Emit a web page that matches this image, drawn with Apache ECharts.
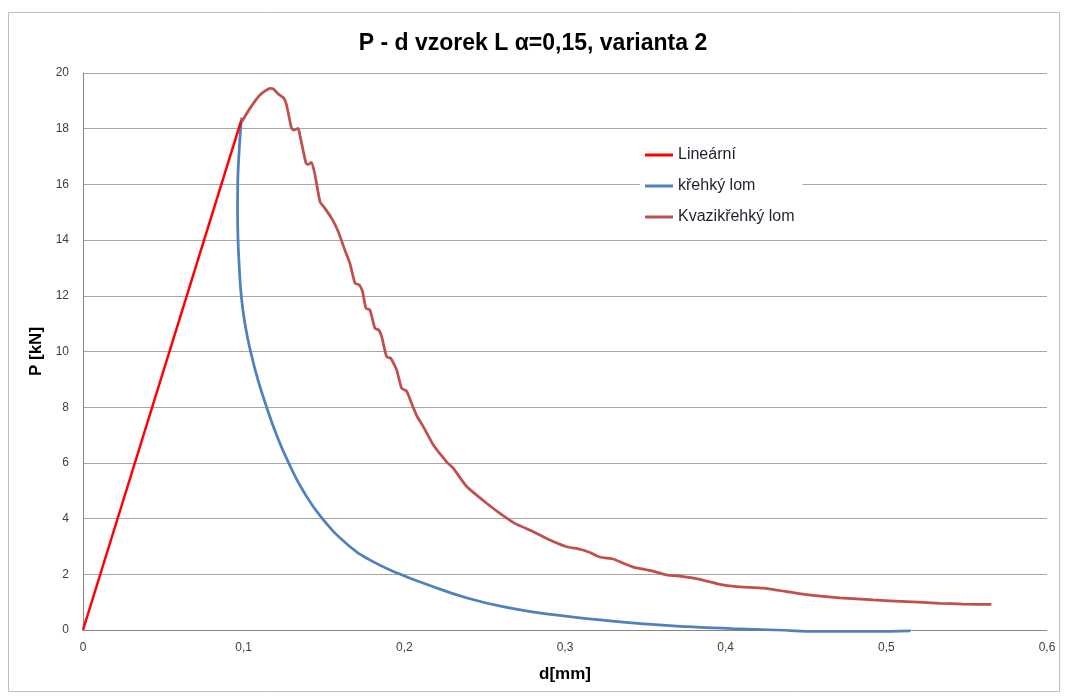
<!DOCTYPE html>
<html>
<head>
<meta charset="utf-8">
<script src="https://cdn.jsdelivr.net/npm/echarts@6/dist/echarts.min.js"></script>
<style>
  html, body { margin: 0; padding: 0; background: #fff; }
  #chart { width: 1066px; height: 698px; }
</style>
</head>
<body>
<div id="chart"></div>
<script>
// Series names (legend entries)
const seriesNames = ['Lineární', 'křehký lom', 'Kvazikřehký lom'];

// Linear loading branch: [d (mm), P (kN)]
const linearData = [
  [0.0, 0.0], [0.0985, 18.3]
];

// Brittle fracture branch
const brittleData = [
  [0.0988, 18.4], [0.0981, 18.0], [0.0970, 17.0], [0.0963, 16.0], [0.0962, 15.0],
  [0.0965, 14.0], [0.0973, 13.0], [0.0985, 12.0], [0.1008, 11.0], [0.1043, 10.0],
  [0.1088, 9.0], [0.1143, 8.0], [0.1205, 7.0], [0.1280, 6.0], [0.1370, 5.0],
  [0.1490, 4.0], [0.1660, 3.0], [0.1790, 2.5], [0.1975, 2.0], [0.2120, 1.68],
  [0.2396, 1.14], [0.2670, 0.78], [0.2940, 0.54], [0.3217, 0.36], [0.3490, 0.22],
  [0.3765, 0.12], [0.4040, 0.05], [0.4310, 0.0], [0.4600, -0.05], [0.4900, -0.05],
  [0.5150, -0.03]
];

// Quasi-brittle fracture branch
const quasiData = [
  [0.0988, 18.25], [0.1039, 18.73], [0.1101, 19.21], [0.1164, 19.45], [0.1184, 19.43],
  [0.1215, 19.25], [0.1251, 19.09], [0.1267, 18.85], [0.1298, 18.01], [0.1313, 17.95],
  [0.1340, 18.01], [0.1350, 17.77], [0.1388, 16.76], [0.1402, 16.72], [0.1423, 16.79],
  [0.1444, 16.34], [0.1475, 15.38], [0.1506, 15.14], [0.1548, 14.78], [0.1589, 14.30],
  [0.1630, 13.64], [0.1661, 13.17], [0.1693, 12.45], [0.1720, 12.39], [0.1740, 12.15],
  [0.1761, 11.55], [0.1786, 11.49], [0.1817, 10.83], [0.1842, 10.77], [0.1859, 10.53],
  [0.1890, 9.81], [0.1915, 9.76], [0.1952, 9.34], [0.1983, 8.68], [0.2014, 8.58],
  [0.2045, 8.14], [0.2077, 7.70], [0.2118, 7.30], [0.2180, 6.65], [0.2263, 6.04],
  [0.2304, 5.81], [0.2388, 5.15], [0.2512, 4.55], [0.2595, 4.19], [0.2688, 3.83],
  [0.2802, 3.53], [0.2906, 3.23], [0.3010, 2.99], [0.3093, 2.90], [0.3155, 2.78],
  [0.3217, 2.62], [0.3300, 2.55], [0.3362, 2.40], [0.3424, 2.26], [0.3528, 2.14],
  [0.3632, 1.98], [0.3736, 1.92], [0.3840, 1.82], [0.3964, 1.64], [0.4068, 1.56],
  [0.4233, 1.50], [0.4379, 1.38], [0.4545, 1.24], [0.4710, 1.15], [0.4918, 1.08],
  [0.5126, 1.02], [0.5333, 0.96], [0.5478, 0.93], [0.5654, 0.92]
];

// Axis ranges
const xRange = { min: 0, max: 0.6, interval: 0.1 };
const yRange = { min: 0, max: 20, interval: 2 };

const chartTitle = 'P - d vzorek L \u03b1=0,15, varianta 2';
const xName = 'd[mm]';
const yName = 'P [kN]';

const colors = ['#FF0000', '#4F81BD', '#C0504D'];
const font = 'Liberation Sans, Arial, sans-serif';

const chart = echarts.init(document.getElementById('chart'), null, { renderer: 'canvas' });

chart.setOption({
  animation: false,
  backgroundColor: '#ffffff',
  title: {
    text: chartTitle,
    left: 'center',
    top: 27,
    textStyle: { fontFamily: font, fontSize: 23, fontWeight: 'bold', color: '#000' }
  },
  graphic: [{
    type: 'rect',
    shape: { x: 8.5, y: 12.5, width: 1051, height: 679 },
    style: { fill: 'none', stroke: '#BEBEBE', lineWidth: 1 },
    silent: true,
    z: -1
  }],
  legend: {
    orient: 'vertical',
    left: 640,
    top: 143,
    itemWidth: 28,
    itemHeight: 3,
    itemGap: 15,
    icon: 'rect',
    padding: [4, 8, 4, 5],
    backgroundColor: '#ffffff',
    textStyle: { fontFamily: font, fontSize: 16, color: '#1F1F2F' },
    data: seriesNames
  },
  grid: { left: 83, right: 19, top: 73, bottom: 68, containLabel: false },
  xAxis: {
    type: 'value',
    min: xRange.min, max: xRange.max, interval: xRange.interval,
    name: xName,
    nameLocation: 'middle',
    nameGap: 36,
    nameTextStyle: { fontFamily: font, fontSize: 17, fontWeight: 'bold', color: '#000' },
    axisLine: { show: true, lineStyle: { color: '#868686', width: 1 } },
    axisTick: { show: false },
    splitLine: { show: false },
    axisLabel: {
      margin: 12,
      fontFamily: font, fontSize: 12, color: '#404040',
      formatter: v => String(+v.toFixed(1)).replace('.', ',')
    }
  },
  yAxis: {
    type: 'value',
    min: yRange.min, max: yRange.max, interval: yRange.interval,
    name: yName,
    nameLocation: 'middle',
    nameGap: 36,
    nameRotate: 90,
    nameTextStyle: { fontFamily: font, fontSize: 17, fontWeight: 'bold', color: '#000' },
    axisLine: { show: true, lineStyle: { color: '#868686', width: 1 } },
    axisTick: { show: false },
    splitLine: { show: true, lineStyle: { color: '#A6A6A6', width: 1 } },
    axisLabel: { margin: 14, fontFamily: font, fontSize: 12, color: '#404040' }
  },
  series: [
    {
      name: seriesNames[0], type: 'line', data: linearData,
      showSymbol: false, symbol: 'none',
      lineStyle: { color: colors[0], width: 2.5 }, itemStyle: { color: colors[0] }, z: 3
    },
    {
      name: seriesNames[1], type: 'line', data: brittleData,
      showSymbol: false, symbol: 'none', clip: false, smooth: 0.5,
      lineStyle: { color: colors[1], width: 2.75 }, itemStyle: { color: colors[1] }, z: 2
    },
    {
      name: seriesNames[2], type: 'line', data: quasiData,
      showSymbol: false, symbol: 'none', smooth: 0.15,
      lineStyle: { color: colors[2], width: 2.75 }, itemStyle: { color: colors[2] }, z: 4
    }
  ]
});
</script>
</body>
</html>
